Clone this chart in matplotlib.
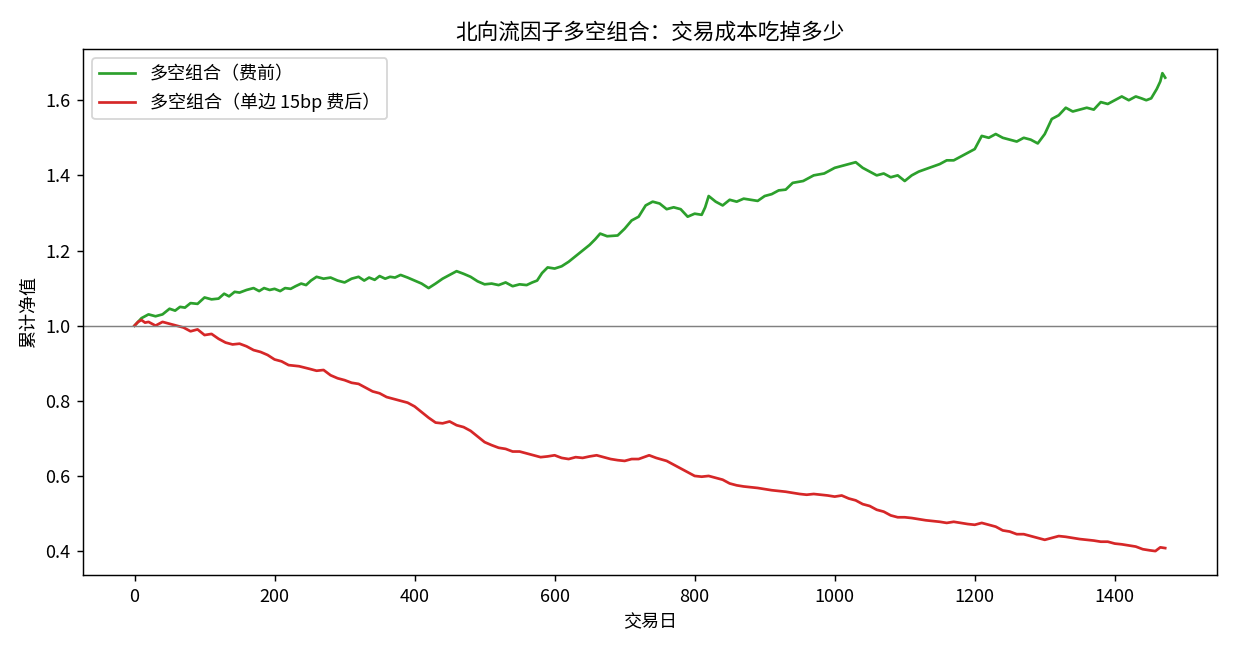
import matplotlib
matplotlib.use('Agg')
import matplotlib.pyplot as plt

plt.rcParams['font.family'] = ['Noto Sans CJK SC', 'DejaVu Sans']
plt.rcParams['axes.unicode_minus'] = False

# 多空组合（费前）: (交易日, 累计净值)
gross_points = [
    (0, 1.00), (5, 1.01), (10, 1.02), (15, 1.025), (20, 1.03), (30, 1.025), (40, 1.03),
    (50, 1.045), (58, 1.04), (65, 1.05), (72, 1.048), (80, 1.06), (90, 1.058), (100, 1.075),
    (110, 1.07), (120, 1.072), (128, 1.085), (135, 1.078), (143, 1.09), (150, 1.088),
    (160, 1.095), (170, 1.10), (178, 1.092), (185, 1.10), (193, 1.095), (200, 1.098),
    (208, 1.092), (215, 1.10), (223, 1.098), (230, 1.105), (238, 1.112), (245, 1.108),
    (252, 1.12), (260, 1.13), (270, 1.125), (280, 1.128), (290, 1.12), (300, 1.115),
    (310, 1.125), (320, 1.13), (328, 1.12), (335, 1.128), (343, 1.122), (350, 1.132),
    (358, 1.125), (365, 1.13), (372, 1.128), (380, 1.135), (390, 1.128), (400, 1.12),
    (410, 1.112), (420, 1.10), (430, 1.112), (440, 1.125), (450, 1.135), (460, 1.145),
    (470, 1.138), (480, 1.13), (490, 1.118), (500, 1.11), (510, 1.112), (520, 1.108),
    (530, 1.115), (540, 1.105), (550, 1.11), (560, 1.108), (568, 1.115), (575, 1.12),
    (582, 1.14), (590, 1.155), (600, 1.152), (610, 1.158), (620, 1.17), (630, 1.185),
    (640, 1.20), (650, 1.215), (658, 1.23), (665, 1.245), (675, 1.238), (690, 1.24),
    (700, 1.258), (710, 1.28), (720, 1.29), (730, 1.32), (740, 1.33), (750, 1.325),
    (760, 1.31), (770, 1.315), (780, 1.31), (790, 1.29), (800, 1.298), (810, 1.295),
    (815, 1.315), (820, 1.345), (830, 1.33), (840, 1.32), (850, 1.335), (860, 1.33),
    (870, 1.338), (880, 1.335), (890, 1.332), (900, 1.345), (910, 1.35), (920, 1.36),
    (930, 1.362), (940, 1.38), (955, 1.385), (970, 1.40), (985, 1.405), (1000, 1.42),
    (1010, 1.425), (1020, 1.43), (1030, 1.435), (1040, 1.42), (1050, 1.41), (1060, 1.40),
    (1070, 1.405), (1080, 1.395), (1090, 1.40), (1100, 1.385), (1110, 1.40), (1120, 1.41),
    (1135, 1.42), (1150, 1.43), (1160, 1.44), (1170, 1.44), (1185, 1.455), (1200, 1.47),
    (1210, 1.505), (1220, 1.50), (1230, 1.51), (1240, 1.50), (1250, 1.495), (1260, 1.49),
    (1270, 1.50), (1280, 1.495), (1290, 1.485), (1300, 1.51), (1310, 1.55), (1320, 1.56),
    (1330, 1.58), (1340, 1.57), (1350, 1.575), (1360, 1.58), (1370, 1.575), (1380, 1.595),
    (1390, 1.59), (1400, 1.60), (1410, 1.61), (1420, 1.60), (1430, 1.61), (1438, 1.605),
    (1445, 1.60), (1452, 1.605), (1460, 1.63), (1465, 1.65), (1468, 1.672), (1472, 1.66),
]

# 多空组合（单边 15bp 费后）: (交易日, 累计净值)
net_points = [
    (0, 1.00), (5, 1.01), (10, 1.015), (15, 1.008), (20, 1.01), (30, 1.00), (40, 1.01),
    (50, 1.005), (60, 1.00), (70, 0.995), (80, 0.985), (90, 0.99), (100, 0.975),
    (110, 0.978), (120, 0.965), (130, 0.955), (140, 0.95), (150, 0.952), (160, 0.945),
    (170, 0.935), (180, 0.93), (190, 0.922), (200, 0.91), (210, 0.905), (220, 0.895),
    (235, 0.892), (250, 0.885), (260, 0.88), (270, 0.882), (280, 0.868), (290, 0.86),
    (300, 0.855), (310, 0.848), (320, 0.845), (330, 0.835), (340, 0.825), (350, 0.82),
    (360, 0.81), (370, 0.805), (380, 0.80), (390, 0.795), (400, 0.785), (410, 0.77),
    (420, 0.755), (430, 0.742), (440, 0.74), (450, 0.745), (460, 0.735), (470, 0.73),
    (480, 0.72), (490, 0.705), (500, 0.69), (510, 0.682), (520, 0.675), (530, 0.672),
    (540, 0.665), (550, 0.665), (560, 0.66), (570, 0.655), (580, 0.65), (590, 0.652),
    (600, 0.655), (610, 0.648), (620, 0.645), (630, 0.65), (640, 0.648), (650, 0.652),
    (660, 0.655), (670, 0.65), (680, 0.645), (690, 0.642), (700, 0.64), (710, 0.645),
    (720, 0.645), (735, 0.655), (745, 0.648), (760, 0.64), (770, 0.63), (780, 0.62),
    (790, 0.61), (800, 0.60), (810, 0.598), (820, 0.60), (830, 0.595), (840, 0.59),
    (850, 0.58), (860, 0.575), (870, 0.572), (880, 0.57), (890, 0.568), (900, 0.565),
    (910, 0.562), (920, 0.56), (930, 0.558), (940, 0.555), (950, 0.552), (960, 0.55),
    (970, 0.552), (980, 0.55), (990, 0.548), (1000, 0.545), (1010, 0.548), (1020, 0.54),
    (1030, 0.535), (1040, 0.525), (1050, 0.52), (1060, 0.51), (1070, 0.505), (1080, 0.495),
    (1090, 0.49), (1100, 0.49), (1110, 0.488), (1120, 0.485), (1130, 0.482), (1140, 0.48),
    (1150, 0.478), (1160, 0.475), (1170, 0.478), (1180, 0.475), (1190, 0.472), (1200, 0.47),
    (1210, 0.475), (1220, 0.47), (1230, 0.465), (1240, 0.455), (1250, 0.452), (1260, 0.445),
    (1270, 0.445), (1280, 0.44), (1290, 0.435), (1300, 0.43), (1310, 0.435), (1320, 0.44),
    (1330, 0.438), (1340, 0.435), (1350, 0.432), (1360, 0.43), (1370, 0.428), (1380, 0.425),
    (1390, 0.425), (1400, 0.42), (1410, 0.418), (1420, 0.415), (1430, 0.412), (1440, 0.405),
    (1450, 0.402), (1458, 0.40), (1465, 0.41), (1472, 0.408),
]

gross_days = [d for d, v in gross_points]
gross_nav = [v for d, v in gross_points]
net_days = [d for d, v in net_points]
net_nav = [v for d, v in net_points]

fig, ax = plt.subplots(figsize=(9.5, 5.0), dpi=130)
fig.subplots_adjust(left=0.0672, right=0.9852, top=0.9242, bottom=0.1154)

ax.plot(gross_days, gross_nav, color='tab:green', lw=1.5, label='多空组合（费前）')
ax.plot(net_days, net_nav, color='tab:red', lw=1.5, label='多空组合（单边 15bp 费后）')
ax.axhline(1.0, color='gray', lw=0.8)

ax.set_title('北向流因子多空组合：交易成本吃掉多少')
ax.set_xlabel('交易日')
ax.set_ylabel('累计净值')
ax.legend(loc='upper left')

fig.savefig('out.png')
